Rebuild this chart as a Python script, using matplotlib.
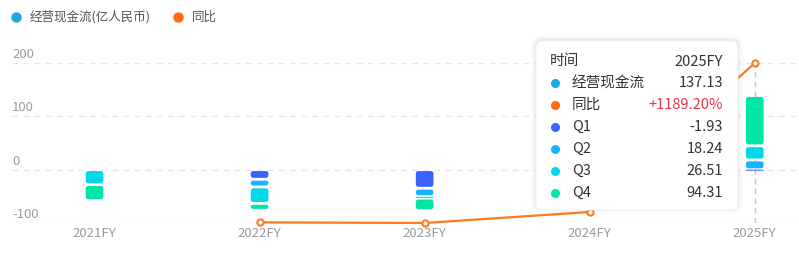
import numpy as np
import matplotlib
matplotlib.use("Agg")
import matplotlib.pyplot as plt
from matplotlib.patches import FancyBboxPatch
from matplotlib.lines import Line2D
import matplotlib.transforms as mtransforms

plt.rcParams['font.family'] = ['Noto Sans CJK SC', 'DejaVu Sans']

# ---------------- data ----------------
years = ['2021FY', '2022FY', '2023FY', '2024FY', '2025FY']
q1 = [np.nan, -18.0, -34.8, -20.0, -1.93]
q2 = [np.nan, -14.4, -15.7, 5.0, 18.24]
q3 = [-28.0, -30.8, -2.8, 10.0, 26.51]
q4 = [-30.0, -13.0, -23.4, 15.64, 94.31]
yoy = [np.nan, 4.0, -1.0, 81.0, 1189.20]
y_ticks = [-100, 0, 100, 200]
quarter_names = ['Q1', 'Q2', 'Q3', 'Q4']
quarter_colors = ['#3a62ff', '#14b4ff', '#00d9e6', '#00e6a6']
total_label = '经营现金流(亿人民币)'
yoy_label = '同比'
tip_year = '2025FY'
tip_total = '137.13'
tip_yoy = '+1189.20%'
tip_q = ['-1.93', '18.24', '26.51', '94.31']

# ---------------- layout ----------------
W, H = 799, 257
fig = plt.figure(figsize=(W / 100, H / 100), dpi=100)
ax_left, ax_bottom, ax_w, ax_h = 12, 34, 787, 160
ax = fig.add_axes([ax_left / W, ax_bottom / H, ax_w / W, ax_h / H])
xlim = (-0.5, 4.268)
ylim = (-100, 200)
ax.set_xlim(*xlim)
ax.set_ylim(*ylim)
for s in ax.spines.values():
    s.set_visible(False)
ax.set_yticks([])
x = np.arange(len(years))
ax.set_xticks(x)
ax.set_xticklabels(years, color='#9a9aa2', fontsize=9.5)
ax.tick_params(axis='x', length=0, pad=3)

# grid lines + y labels
for t in y_ticks:
    ax.axhline(t, color='#e6e6ea', lw=1, ls=(0, (4, 4)), zorder=0)
    ax.annotate(str(t), xy=(0, t), xycoords=('axes fraction', 'data'),
                xytext=(0, 1.5), textcoords='offset points',
                ha='left', va='bottom', fontsize=9.5, color='#9a9aa2')

# axis pointer at 2025
ax.axvline(4, color='#c4c4cc', lw=1, ls=(0, (4, 3)), zorder=1)

# ---------------- stacked bars ----------------
px_per_x = ax_w / (xlim[1] - xlim[0])
px_per_y = ax_h / (ylim[1] - ylim[0])
aspect = (1 / px_per_y) / (1 / px_per_x)
bw = 0.107
gap_px = 1.4
pos = np.zeros(len(years))
neg = np.zeros(len(years))
for vals, c in zip([q1, q2, q3, q4], quarter_colors):
    v = np.array(vals, float)
    valid = ~np.isnan(v)
    bottoms = np.where(v >= 0, pos, neg)
    bars = ax.bar(x[valid], v[valid], width=bw, bottom=bottoms[valid], color=c)
    for b in bars:
        bx, by = b.get_x(), b.get_y()
        bwid, bh = b.get_width(), b.get_height()
        y0 = min(by, by + bh)
        h = abs(bh)
        g = gap_px / px_per_y
        hn = h - 2 * g
        minh = 1.0 / px_per_y
        if hn < minh:
            hn = minh
        yc = y0 + h / 2
        hpx = hn * px_per_y
        r_px = min(2.5, hpx / 2)
        rs = r_px / px_per_x
        b.set_visible(False)
        p = FancyBboxPatch((bx, yc - hn / 2), bwid, hn,
                           boxstyle=f"round,pad=0,rounding_size={rs}",
                           mutation_aspect=aspect, facecolor=c,
                           edgecolor='none', zorder=2)
        ax.add_patch(p)
    pos = pos + np.where(valid & (v > 0), v, 0)
    neg = neg + np.where(valid & (v < 0), v, 0)

# ---------------- yoy line ----------------
ax2 = ax.twinx()
yy = np.array(yoy, float)
ax2.set_ylim(np.nanmin(yy), np.nanmax(yy))
ax2.axis('off')
ax2.plot(x, yy, color='#ff7a1a', lw=1.6, marker='o', ms=4.5,
         mfc='white', mec='#ff7a1a', mew=1.5, clip_on=False, zorder=3)

# ---------------- legend ----------------
T = mtransforms.Affine2D().scale(1 / W, 1 / H) + fig.transFigure

fig.add_artist(Line2D([16], [H - 17], marker='o', ms=7.5, color='#22a6e2',
                      mec='none', transform=T))
fig.text(30 / W, 1 - 17 / H, total_label, fontsize=9, color='#555555',
         ha='left', va='center')
fig.add_artist(Line2D([178], [H - 17], marker='o', ms=7.5, color='#ff6a13',
                      mec='none', transform=T))
fig.text(192 / W, 1 - 17 / H, yoy_label, fontsize=9, color='#555555',
         ha='left', va='center')

# ---------------- tooltip ----------------
bx0, by0, bx1, by1 = 536, 41, 738, 210
for k, a in [(5, 0.010), (3.5, 0.015), (2, 0.022), (1, 0.03)]:
    sh = FancyBboxPatch((bx0 - k, H - by1 - k + 1), (bx1 - bx0) + 2 * k,
                        (by1 - by0) + 2 * k,
                        boxstyle=f"round,pad=0,rounding_size={6 + k}",
                        facecolor='black', alpha=a, edgecolor='none',
                        transform=T, zorder=9)
    fig.add_artist(sh)
box = FancyBboxPatch((bx0, H - by1), bx1 - bx0, by1 - by0,
                     boxstyle="round,pad=0,rounding_size=6",
                     facecolor='white', edgecolor='#f0f0f0', lw=0.6,
                     transform=T, zorder=10)
fig.add_artist(box)

rows_y = [61.5, 83, 105, 127, 149, 171, 193]
txt_kw = dict(fontsize=10.5, color='#333333', va='center', zorder=11)
fig.text(550 / W, 1 - rows_y[0] / H, '时间', ha='left', **txt_kw)
fig.text(723 / W, 1 - rows_y[0] / H, tip_year, ha='right', **txt_kw)

labels = ['经营现金流', yoy_label] + quarter_names
values = [tip_total, tip_yoy] + tip_q
dot_cols = ['#22a6e2', '#ff6a13'] + quarter_colors
for i, (lab, val, dc) in enumerate(zip(labels, values, dot_cols)):
    yrow = rows_y[i + 1]
    fig.add_artist(Line2D([555], [H - yrow], marker='o', ms=6.5, color=dc,
                          mec='none', transform=T, zorder=11))
    fig.text(572 / W, 1 - yrow / H, lab, ha='left', **txt_kw)
    kw = dict(txt_kw)
    if val.startswith('+'):
        kw['color'] = '#e8334a'
    fig.text(723 / W, 1 - yrow / H, val, ha='right', **kw)

fig.savefig('out.png', dpi=100)
